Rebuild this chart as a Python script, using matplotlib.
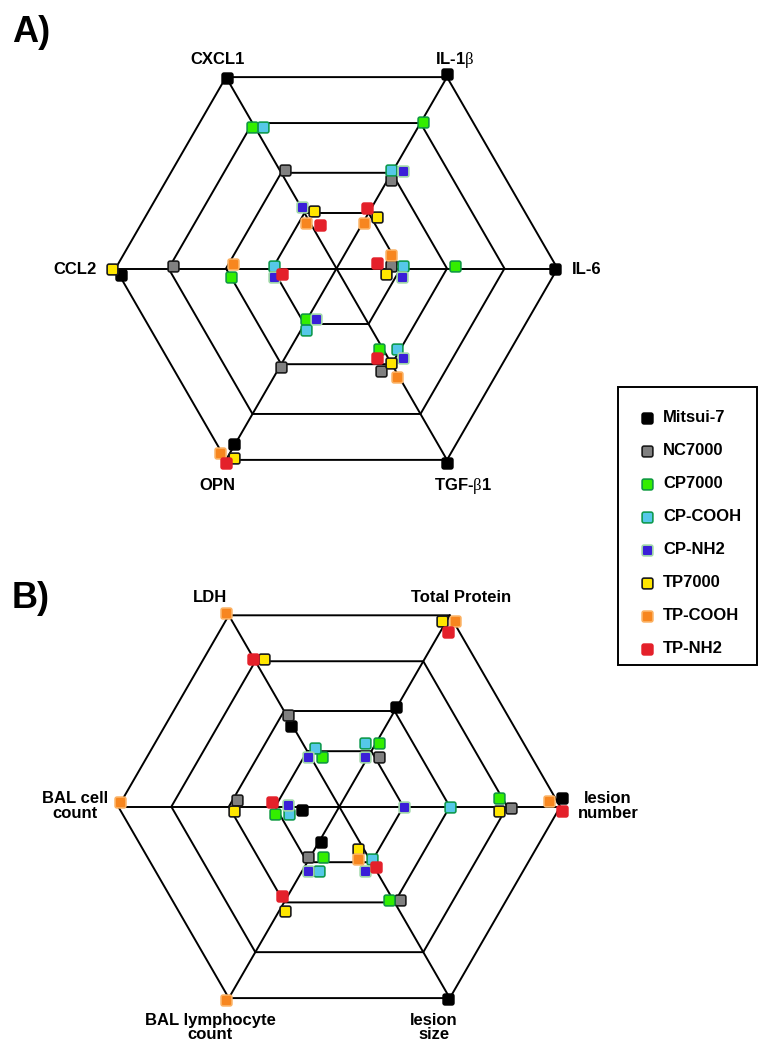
import numpy as np
import matplotlib
matplotlib.use("Agg")
import matplotlib.pyplot as plt
from matplotlib.path import Path

plt.rcParams['font.family'] = ['Liberation Sans', 'DejaVu Sans']
plt.rcParams['mathtext.fontset'] = 'custom'
plt.rcParams['mathtext.rm'] = 'Liberation Serif'

series = ["Mitsui-7", "NC7000", "CP7000", "CP-COOH", "CP-NH2", "TP7000", "TP-COOH", "TP-NH2"]
fills = ["#000000", "#808080", "#33ee00", "#55c8e8", "#3a1fd8", "#ffe600", "#f7861f", "#e4202a"]
edges = ["#000000", "#1a1a1a", "#109a40", "#109a50", "#a0d8a8", "#1a1a1a", "#fbb060", "#e4202a"]

# panel A: cytokines, fraction of outer ring
axes_a = ["CXCL1", r"IL-1$\mathrm{\beta}$", "IL-6", r"TGF-$\mathrm{\beta}$1", "OPN", "CCL2"]
vals_a = {
    "CXCL1":  [0.993, 0.505, 0.745, 0.720, 0.320, 0.276, 0.247, 0.207],
    "IL-1b":  [1.010, 0.469, 0.770, 0.510, 0.535, 0.293, 0.239, 0.304],
    "IL-6":   [0.990, 0.247, 0.538, 0.300, 0.295, 0.223, 0.245, 0.185],
    "TGF-b1": [1.010, 0.504, 0.412, 0.451, 0.502, 0.494, 0.563, 0.443],
    "OPN":    [0.919, 0.512, 0.267, 0.308, 0.242, 0.972, 0.985, 1.014],
    "CCL2":   [0.977, 0.740, 0.477, 0.285, 0.285, 1.018, 0.470, 0.245],
}
# sideways nudges (px) so overlapping markers stay visible
nudge_a = {
    "CXCL1":  [0, -4.4, 2.4, -6.8, -1.1, -9.3, 4.1, -7.8],
    "IL-1b":  [1.4, -3.2, -1.5, 2.4, -9.1, -9.7, -1.2, 4.0],
    "IL-6":   [0, 2.7, 2.7, 2.7, -8.3, -5.7, 14, 5.7],
    "TGF-b1": [-1.7, -12.8, -3.1, 12, 13.2, -0.4, -2.2, -9.3],
    "OPN":    [-1.5, 1.5, -1.6, 4.5, 7.7, 6.1, -8.8, 1.7],
    "CCL2":   [6, -2.7, 8.3, -2.7, 8.3, 0, -5, 5.7],
}

# panel B: lung injury endpoints
axes_b = ["LDH", "Total Protein", "lesion\nnumber", "lesion\nsize", "BAL lymphocyte\ncount", "BAL cell\ncount"]
vals_b = {
    "LDH":     [0.425, 0.477, 0.232, 0.285, 0.265, 0.749, 1.015, 0.773],
    "protein": [0.519, 0.285, 0.340, 0.308, 0.253, 0.961, 0.991, 0.930],
    "les_num": [1.006, 0.779, 0.723, 0.503, 0.294, 0.723, 0.950, 1.006],
    "les_size": [1.000, 0.501, 0.476, 0.280, 0.310, 0.207, 0.249, 0.320],
    "BAL_lym": [0.180, 0.267, 0.235, 0.297, 0.322, 0.533, 1.015, 0.480],
    "BAL_cell": [0.171, 0.462, 0.292, 0.229, 0.232, 0.477, 0.994, 0.305],
}
nudge_b = {
    "LDH":     [1.9, -1.7, -10.2, -8.1, 2.2, -8.1, 1.2, 1.1],
    "protein": [0.4, -10, -3, 9.4, 2.4, 3.9, -7.7, -6.5],
    "les_num": [9, -1, 9, 0, 0, -4.3, 5.7, -4.3],
    "les_size": [-2.3, 5.6, -3.9, 1.8, -9.8, -4.4, -9.7, 1.8],
    "BAL_lym": [1.3, -1.8, 10.6, 14.7, 5.2, 4.9, -1.2, -4.4],
    "BAL_cell": [3.3, -6.7, 7.3, 7.3, -1.7, 4, -5, -4.3],
}

angles = np.deg2rad([120, 60, 0, 300, 240, 180])
rings = [0.29, 0.5, 0.76, 1.0]
R = 221


def rounded_square(r=0.35, n=8):
    pts = []
    for cx, cy, a0 in [(1 - r, 1 - r, 0), (-1 + r, 1 - r, 90), (-1 + r, -1 + r, 180), (1 - r, -1 + r, 270)]:
        for t in np.deg2rad(np.linspace(a0, a0 + 90, n)):
            pts.append((cx + r * np.cos(t), cy + r * np.sin(t)))
    pts.append(pts[0])
    return Path(pts, closed=True)


box = rounded_square()


def to_xy(cx, cy, th, v, q):
    x = cx + v * R * np.cos(th) - q * np.sin(th)
    y = cy - (v * R * np.sin(th) + q * np.cos(th))
    return x, y


def draw_radar(ax, cx, cy, vals, nudges):
    for f in rings:
        hx = [cx + f * R * np.cos(a) for a in list(angles) + [angles[0]]]
        hy = [cy - f * R * np.sin(a) for a in list(angles) + [angles[0]]]
        ax.plot(hx, hy, color='black', lw=1.4, zorder=1)
    for a in angles:
        ax.plot([cx, cx + R * np.cos(a)], [cy, cy - R * np.sin(a)], color='black', lw=1.4, zorder=1)
    keys = list(vals.keys())
    for i in range(len(series)):
        xs, ys = [], []
        for k, th in zip(keys, angles):
            x, y = to_xy(cx, cy, th, vals[k][i], nudges[k][i])
            xs.append(x)
            ys.append(y)
        ax.scatter(xs, ys, marker=box, s=60, facecolor=fills[i], edgecolor=edges[i],
                   linewidths=1.2, zorder=3 + i)


fig = plt.figure(figsize=(7.58, 10.44), dpi=100)
ax = fig.add_axes([0, 0, 1, 1])
ax.set_xlim(0, 758)
ax.set_ylim(1044, 0)
ax.axis('off')

draw_radar(ax, 336.5, 268.5, vals_a, nudge_a)
draw_radar(ax, 339.3, 806.7, vals_b, nudge_b)

fs = 12
kw = dict(fontsize=fs, fontweight='bold')
# panel A labels
ax.text(218, 64, axes_a[0], ha='center', va='baseline', **kw)
ax.text(455, 64, axes_a[1], ha='center', va='baseline', **kw)
ax.text(572, 269, axes_a[2], ha='left', va='center', **kw)
ax.text(463, 490, axes_a[3], ha='center', va='baseline', **kw)
ax.text(217, 490, axes_a[4], ha='center', va='baseline', **kw)
ax.text(97, 269, axes_a[5], ha='right', va='center', **kw)
# panel B labels (baseline of the last line)
ax.text(608, 818, axes_b[2], ha='center', va='baseline', linespacing=1.0, **kw)
ax.text(210, 602, axes_b[0], ha='center', va='baseline', **kw)
ax.text(461, 602, axes_b[1], ha='center', va='baseline', **kw)
ax.text(434, 1039, axes_b[3], ha='center', va='baseline', linespacing=0.95, **kw)
ax.text(210, 1039, axes_b[4], ha='center', va='baseline', linespacing=0.95, **kw)
ax.text(75, 818, axes_b[5], ha='center', va='baseline', linespacing=1.0, **kw)

ax.text(12, 42, "A)", fontsize=26, fontweight='bold', va='baseline')
ax.text(12, 608, "B)", fontsize=26, fontweight='bold', va='baseline')

# legend box
ax.add_patch(plt.Rectangle((617.5, 387), 139, 278, fill=False, edgecolor='black', lw=1.4, zorder=2))
for i, name in enumerate(series):
    ly = 417.5 + i * 33
    ax.scatter([646.5], [ly], marker=box, s=60, facecolor=fills[i], edgecolor=edges[i],
               linewidths=1.2, zorder=3)
    ax.text(663, ly, name, ha='left', va='center', **kw)

fig.savefig("out.png", dpi=100)
